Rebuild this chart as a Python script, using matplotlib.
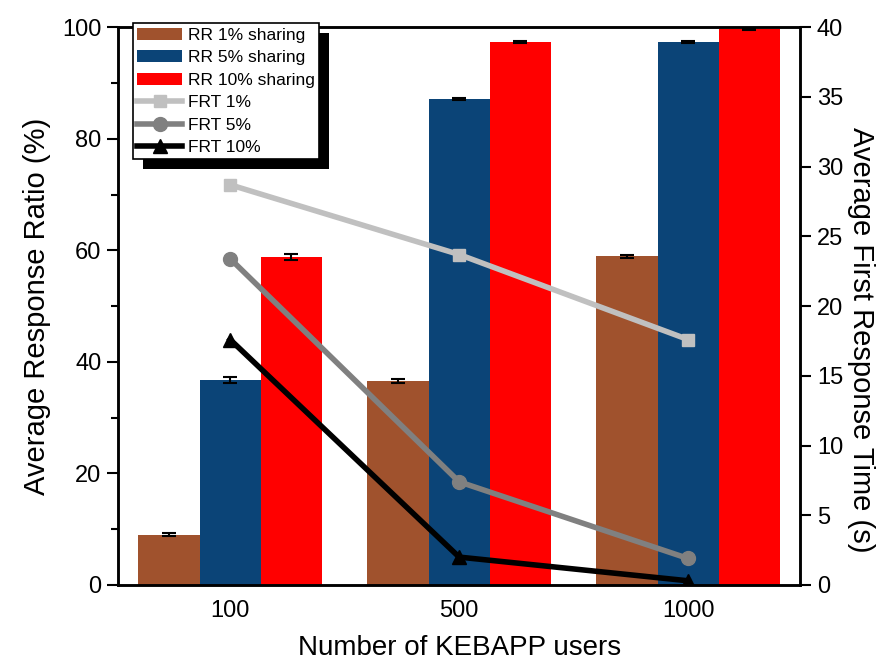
import numpy as np
import matplotlib.pyplot as plt
from matplotlib.ticker import MultipleLocator
import matplotlib.patheffects as pe

plt.rcParams['font.family'] = ['Liberation Sans', 'DejaVu Sans']

users = ['100', '500', '1000']
rr_1 = [9.0, 36.6, 58.9]
rr_5 = [36.8, 87.1, 97.3]
rr_10 = [58.8, 97.4, 99.6]
rr_1_err = [0.3, 0.3, 0.2]
rr_5_err = [0.5, 0.2, 0.2]
rr_10_err = [0.6, 0.2, 0.1]

frt_1 = [28.7, 23.7, 17.6]
frt_5 = [23.4, 7.4, 1.9]
frt_10 = [17.6, 2.0, 0.3]

x = np.arange(len(users))
w = 0.267

fig = plt.figure(figsize=(8.85, 6.64), dpi=100)
ax = fig.add_axes([0.1333, 0.119, 0.771, 0.840])
ax2 = ax.twinx()

ekw = dict(ecolor='black', elinewidth=1.5, capsize=5, capthick=1.5)
b1 = ax.bar(x - w, rr_1, w, yerr=rr_1_err, color='#a0522d', label='RR 1% sharing', error_kw=ekw)
b2 = ax.bar(x, rr_5, w, yerr=rr_5_err, color='#0b4477', label='RR 5% sharing', error_kw=ekw)
b3 = ax.bar(x + w, rr_10, w, yerr=rr_10_err, color='#ff0000', label='RR 10% sharing', error_kw=ekw)

l1, = ax2.plot(x, frt_1, '-s', color='#c0c0c0', lw=4, ms=9, label='FRT 1%')
l2, = ax2.plot(x, frt_5, '-o', color='#808080', lw=4, ms=10, label='FRT 5%')
l3, = ax2.plot(x, frt_10, '-^', color='black', lw=4, ms=10, label='FRT 10%')

ax.set_xlim(-0.49, 2.49)
ax.set_ylim(0, 100)
ax2.set_ylim(0, 40)
ax.set_xticks(x)
ax.set_xticklabels(users)
ax.yaxis.set_major_locator(MultipleLocator(20))
ax.yaxis.set_minor_locator(MultipleLocator(10))
ax2.yaxis.set_major_locator(MultipleLocator(5))

ax.tick_params(axis='x', length=0, labelsize=17, pad=11)
ax.tick_params(axis='y', which='major', direction='out', length=8, width=1.5, labelsize=17, pad=4)
ax.tick_params(axis='y', which='minor', direction='out', length=5, width=1.5)
ax2.tick_params(axis='y', direction='out', length=8, width=1.5, labelsize=17, pad=4)
for a in (ax, ax2):
    for s in a.spines.values():
        s.set_linewidth(1.8)

ax.set_xlabel('Number of KEBAPP users', fontsize=20, labelpad=9)
ax.set_ylabel('Average Response Ratio (%)', fontsize=21, labelpad=8)
ax2.set_ylabel('Average First Response Time (s)', fontsize=21, rotation=270, labelpad=26)
ax2.yaxis.set_label_coords(1.11, 0.44)

handles = [b1, b2, b3, l1, l2, l3]
leg = ax2.legend(handles=handles, loc='upper left', bbox_to_anchor=(0.022, 1.007),
                 fontsize=12.5, frameon=True, fancybox=False, shadow=False, framealpha=1,
                 handlelength=2.6, handletextpad=0.3, labelspacing=0.42,
                 borderpad=0.25, borderaxespad=0)
frame = leg.get_frame()
frame.set_facecolor('white')
frame.set_edgecolor('black')
frame.set_linewidth(1.2)
frame.set_path_effects([pe.SimplePatchShadow(offset=(7, -7), shadow_rgbFace='black', alpha=1.0),
                        pe.Normal()])

fig.savefig('out.png', dpi=100)
